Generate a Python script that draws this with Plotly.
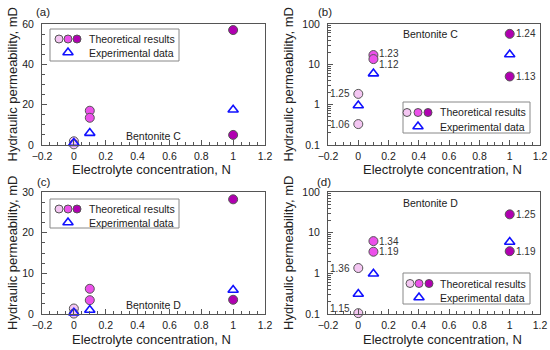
import math
import plotly.graph_objects as go

# ---------------- data ----------------
conc_theory = [0, 0, 0.1, 0.1, 1, 1]
conc_exp = [0, 0.1, 1]

# Bentonite C
kC_theory = [1.85, 0.33, 17.0, 13.5, 57.0, 5.0]
kC_exp = [0.95, 5.9, 17.5]
labC = ["1.25", "1.06", "1.23", "1.12", "1.24", "1.13"]

# Bentonite D
kD_theory = [1.35, 0.105, 6.2, 3.4, 28.2, 3.5]
kD_exp = [0.31, 0.98, 5.9]
labD = ["1.36", "1.15", "1.34", "1.19", "1.25", "1.19"]

x_ticks = [-0.2, 0, 0.2, 0.4, 0.6, 0.8, 1, 1.2]
x_ticktext = ["\u22120.2", "0", "0.2", "0.4", "0.6", "0.8", "1", "1.2"]
log_ticks = [0.1, 1, 10, 100]
log_ticktext = ["0.1", "1", "10", "100"]
log_minor = [m * d for d in (0.1, 1, 10) for m in range(2, 10)]

# ---------------- style ----------------
FONT = "Liberation Sans, Arial, sans-serif"
C_LIGHT, C_MID, C_DARK = "#f4c6f2", "#ec50ea", "#b000b0"
conc_color = {0: C_LIGHT, 0.1: C_MID, 1: C_DARK}
OUT = "#555555"
AX = "#555555"
TXT = "#222222"
BLUE = "#1010ff"
W, H = 550, 350

fig = go.Figure()

panels = [
    dict(x="x", y="y", xd=[42/W, 265/W], yd=[1-145/H, 1-24/H], log=False,
         yr=[0, 60], th=kC_theory, ex=kC_exp, lab=None, dt=20, minor=5,
         ytx=12, xtx=151, xty=169.5),
    dict(x="x2", y="y2", xd=[328/W, 540/W], yd=[1-145/H, 1-24/H], log=True,
         yr=[-1, 2], th=kC_theory, ex=kC_exp, lab=labC, dt=None, minor=None,
         lab_dy=[0, 0, 2, -5, 0, 0], ytx=288, xtx=442, xty=169.5),
    dict(x="x3", y="y3", xd=[42/W, 265/W], yd=[1-314/H, 1-192/H], log=False,
         yr=[0, 30], th=kD_theory, ex=kD_exp, lab=None, dt=10, minor=2.5,
         ytx=12, xtx=151, xty=339.5),
    dict(x="x4", y="y4", xd=[328/W, 540/W], yd=[1-314/H, 1-192/H], log=True,
         yr=[-1, 2], th=kD_theory, ex=kD_exp, lab=labD, dt=None, minor=None,
         lab_dy=[0, 5, 0, 0, 0, 0], ytx=288, xtx=442, xty=339.5),
]

layout_axes = {}
annotations = []
for i, p in enumerate(panels):
    n = "" if i == 0 else str(i + 1)
    cols = [conc_color[c] for c in conc_theory]
    fig.add_trace(go.Scatter(
        x=conc_theory, y=p["th"], mode="markers", xaxis=p["x"], yaxis=p["y"],
        marker=dict(symbol="circle", size=9, color=cols, line=dict(color=OUT, width=1)),
        showlegend=False, cliponaxis=False))
    fig.add_trace(go.Scatter(
        x=conc_exp, y=p["ex"], mode="markers", xaxis=p["x"], yaxis=p["y"],
        marker=dict(symbol="triangle-up-open", size=9, color=BLUE, line=dict(color=BLUE, width=1.6)),
        showlegend=False, cliponaxis=False))
    if p["lab"]:
        for xv, yv, t, dy in zip(conc_theory, p["th"], p["lab"], p["lab_dy"]):
            left = (xv == 0)
            annotations.append(dict(
                text=t, x=xv, y=math.log10(yv), xref=p["x"], yref=p["y"],
                xanchor="right" if left else "left", yanchor="middle",
                xshift=-6 if left else 4, yshift=dy, showarrow=False,
                font=dict(family=FONT, size=10, color="#333333")))

    xa = dict(domain=p["xd"], range=[-0.2, 1.2], tickvals=x_ticks, ticktext=x_ticktext,
              ticks="inside", ticklen=5, tickcolor=AX, tickwidth=1,
              showline=True, linecolor=AX, linewidth=1, mirror=True,
              showgrid=False, zeroline=False, anchor=p["y"], automargin=False,
              ticklabelstandoff=1,
              tickfont=dict(family=FONT, size=10.5, color=TXT),
              minor=dict(dtick=0.05, ticks="inside", ticklen=3, tickcolor=AX, showgrid=False))
    if p["log"]:
        ya = dict(type="log", range=p["yr"], tickvals=log_ticks, ticktext=log_ticktext,
                  minor=dict(tickvals=log_minor, ticks="inside", ticklen=3,
                             tickcolor=AX, showgrid=False))
    else:
        ya = dict(range=p["yr"], dtick=p["dt"], tick0=0,
                  minor=dict(dtick=p["minor"], ticks="inside", ticklen=3,
                             tickcolor=AX, showgrid=False))
    ya.update(domain=p["yd"], ticks="inside", ticklen=5, tickcolor=AX, tickwidth=1,
              showline=True, linecolor=AX, linewidth=1, mirror=True,
              showgrid=False, zeroline=False, anchor=p["x"], automargin=False,
              ticklabelstandoff=5,
              tickfont=dict(family=FONT, size=10.5, color=TXT))
    layout_axes["xaxis" + n] = xa
    layout_axes["yaxis" + n] = ya

    annotations.append(dict(text="Hydraulic permeability, mD", textangle=-90,
                            x=p["ytx"]/W, y=(p["yd"][0] + p["yd"][1]) / 2,
                            xref="paper", yref="paper", xanchor="center", yanchor="middle",
                            showarrow=False, font=dict(family=FONT, size=13, color=TXT)))
    annotations.append(dict(text="Electrolyte concentration, N",
                            x=p["xtx"]/W, y=1-p["xty"]/H,
                            xref="paper", yref="paper", xanchor="center", yanchor="middle",
                            showarrow=False, font=dict(family=FONT, size=13, color=TXT)))

# overlay axis in pixel coordinates for hand-made legends
layout_axes["xaxis5"] = dict(domain=[0, 1], range=[0, W], visible=False,
                             fixedrange=True, automargin=False, anchor="y5")
layout_axes["yaxis5"] = dict(domain=[0, 1], range=[H, 0], visible=False,
                             fixedrange=True, automargin=False, anchor="x5")

legends = [
    dict(box=(50, 29, 179, 61), cx=[59, 68, 77], cy=39, ty=52.5, tx=87),
    dict(box=(403, 102, 530, 133), cx=[407, 418, 428], cy=112.5, ty=126.5, tx=438),
    dict(box=(50, 199, 179, 228), cx=[59, 68, 77], cy=209, ty=222.5, tx=87),
    dict(box=(403, 273, 530, 304), cx=[410, 419, 429], cy=283.5, ty=297.5, tx=438),
]
shapes = []
for lg in legends:
    x0, y0, x1, y1 = lg["box"]
    shapes.append(dict(type="rect", xref="paper", yref="paper",
                       x0=x0/W, x1=x1/W, y0=1-y1/H, y1=1-y0/H,
                       line=dict(color="#888888", width=1), fillcolor="white", layer="below"))
    fig.add_trace(go.Scatter(x=lg["cx"], y=[lg["cy"]]*3, mode="markers", xaxis="x5", yaxis="y5",
                             marker=dict(symbol="circle", size=8, color=[C_LIGHT, C_MID, C_DARK],
                                         line=dict(color=OUT, width=1)),
                             showlegend=False, hoverinfo="skip", cliponaxis=False))
    fig.add_trace(go.Scatter(x=[lg["cx"][1]], y=[lg["ty"]], mode="markers", xaxis="x5", yaxis="y5",
                             marker=dict(symbol="triangle-up-open", size=9, color=BLUE,
                                         line=dict(color=BLUE, width=1.6)),
                             showlegend=False, hoverinfo="skip", cliponaxis=False))
    annotations.append(dict(text="Theoretical results", x=lg["tx"]/W, y=1-lg["cy"]/H,
                            xref="paper", yref="paper", xanchor="left", yanchor="middle",
                            showarrow=False, font=dict(family=FONT, size=10.5, color=TXT)))
    annotations.append(dict(text="Experimental data", x=lg["tx"]/W, y=1-lg["ty"]/H,
                            xref="paper", yref="paper", xanchor="left", yanchor="middle",
                            showarrow=False, font=dict(family=FONT, size=10.5, color=TXT)))

# panel letters and sample names
for txt, px, py in [("(a)", 43, 12), ("(b)", 325, 12), ("(c)", 44, 182), ("(d)", 324, 182)]:
    annotations.append(dict(text=txt, x=px/W, y=1-py/H, xref="paper", yref="paper",
                            xanchor="center", yanchor="middle", showarrow=False,
                            font=dict(family=FONT, size=11.5, color=TXT)))
for txt, px, py in [("Bentonite C", 153, 136), ("Bentonite C", 430, 34),
                    ("Bentonite D", 153, 305), ("Bentonite D", 430, 203)]:
    annotations.append(dict(text=txt, x=px/W, y=1-py/H, xref="paper", yref="paper",
                            xanchor="center", yanchor="middle", showarrow=False,
                            font=dict(family=FONT, size=10.5, color=TXT)))

fig.update_layout(width=W, height=H, margin=dict(l=0, r=0, t=0, b=0, autoexpand=False),
                  paper_bgcolor="white", plot_bgcolor="rgba(0,0,0,0)", hovermode=False,
                  shapes=shapes, annotations=annotations, **layout_axes)
fig.write_html("out.html", config={"displayModeBar": False, "staticPlot": True},
               post_script="document.body.style.margin='0';document.body.style.overflow='hidden';")
